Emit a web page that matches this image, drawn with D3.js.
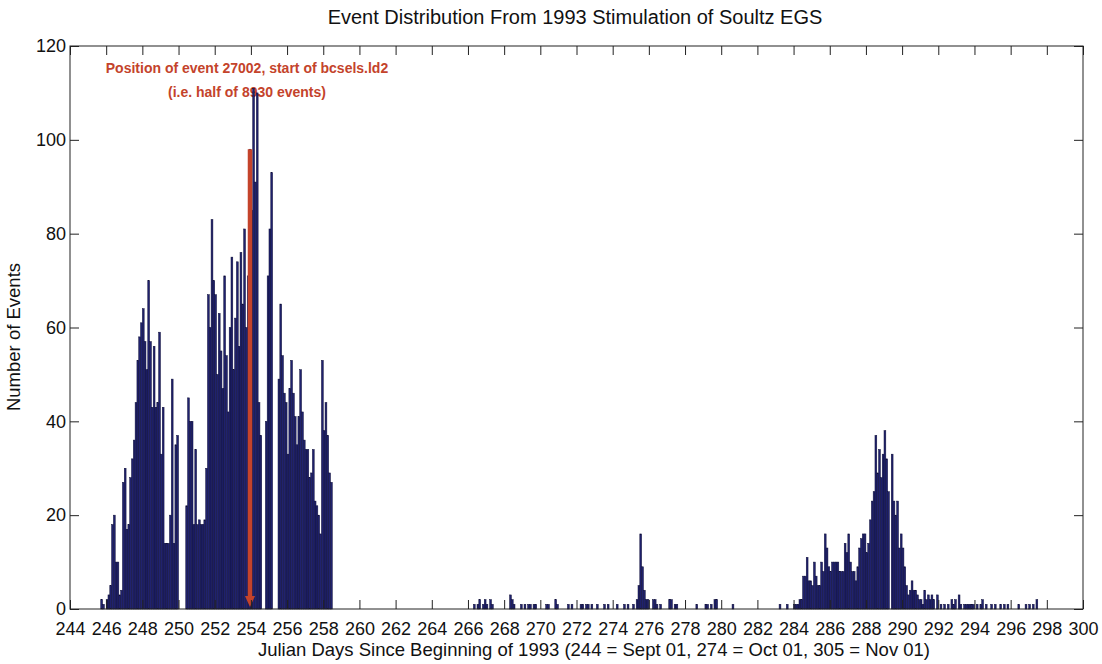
<!DOCTYPE html>
<html>
<head>
<meta charset="utf-8">
<script src="https://cdn.jsdelivr.net/npm/d3@7"></script>
<style>
  body { margin: 0; background: #fff; }
  svg { display: block; }
  text { font-family: "Liberation Sans", Arial, Helvetica, sans-serif; fill: #111; }
</style>
</head>
<body>
<svg id="chart" width="1102" height="664"></svg>
<script>
// ---- labels ----
const chartTitle = "Event Distribution From 1993 Stimulation of Soultz EGS";
const xTitle = "Julian Days Since Beginning of 1993 (244 = Sept 01, 274 = Oct 01, 305 = Nov 01)";
const yTitle = "Number of Events";
const noteLines = ["Position of event 27002, start of bcsels.ld2", "(i.e. half of 8930 events)"];

// ---- axes ----
const xTickValues = [244, 246, 248, 250, 252, 254, 256, 258, 260, 262, 264, 266, 268, 270,
                     272, 274, 276, 278, 280, 282, 284, 286, 288, 290, 292, 294, 296, 298, 300];
const yTickValues = [0, 20, 40, 60, 80, 100, 120];

// ---- histogram: events per 0.1-day bin ----
const binWidth = 0.1;

// main stimulation swarm, bins from day 245.6
const swarmStart = 245.6;
const swarmCounts = [
  0, 2, 1, 0, 2, 3, 5, 18, 20, 10,
  10, 3, 4, 27, 30, 17, 18, 28, 32, 36,
  44, 53, 58, 61, 64, 57, 51, 70, 57, 43,
  56, 43, 44, 59, 33, 43, 14, 14, 14, 20,
  49, 14, 35, 37, 0, 0, 0, 0, 22, 45,
  40, 40, 18, 34, 18, 19, 18, 18, 19, 30,
  67, 60, 83, 70, 67, 50, 63, 55, 47, 71,
  54, 42, 60, 75, 51, 62, 74, 56, 76, 65,
  81, 60, 71, 98, 85, 111, 91, 110, 44, 37,
  0, 0, 40, 71, 81, 93, 0, 0, 0, 49,
  65, 54, 46, 44, 33, 47, 53, 46, 41, 35,
  41, 51, 42, 36, 34, 34, 28, 29, 34, 23,
  22, 20, 16, 53, 38, 44, 37, 29, 27
];

// second burst, bins from day 284.0
const lateStart = 284.0;
const lateCounts = [
  1, 1, 1, 2, 2, 7, 7, 11, 6, 6,
  5, 10, 7, 5, 5, 10, 8, 16, 13, 9,
  8, 10, 10, 10, 10, 8, 8, 8, 14, 12,
  16, 10, 8, 8, 6, 9, 13, 15, 16, 16,
  12, 14, 19, 23, 25, 37, 29, 34, 28, 33,
  38, 32, 25, 0, 33, 23, 20, 23, 13, 16,
  13, 9, 5, 3, 4, 6, 4, 4, 3, 2,
  2, 1, 4, 2
];

// isolated bins between and after the bursts (bin start day, count)
const scatterDays = [
  266.3, 266.5, 266.6, 266.8, 266.9, 267.0, 267.2, 267.3, 268.3, 268.4,
  268.5, 268.9, 269.1, 269.3, 269.4, 269.6, 269.7, 270.3, 270.4, 270.8,
  270.9, 271.5, 271.7, 272.2, 272.3, 272.5, 272.6, 272.8, 273.1, 273.5,
  273.7, 274.2, 274.6, 274.8, 275.1, 275.3, 275.4, 275.5, 275.6, 275.7,
  275.8, 275.9, 276.2, 276.3, 276.4, 276.6, 277.1, 277.2, 277.4, 277.5,
  278.6, 279.1, 279.2, 279.4, 279.6, 279.7, 280.6, 283.2, 283.6,
  291.4, 291.5, 291.6, 291.7, 291.9, 292.1, 292.3, 292.5, 292.7, 292.8,
  292.9, 293.1, 293.2, 293.4, 293.5, 293.6, 293.7, 293.8, 293.9, 294.1,
  294.3, 294.4, 294.6, 294.9, 295.1, 295.4, 295.6, 295.8, 296.4, 296.8,
  297.0, 297.2, 297.4
];
const scatterCounts = [
  1, 1, 2, 1, 2, 1, 2, 1, 3, 2,
  1, 1, 1, 1, 1, 1, 1, 1, 1, 2,
  1, 1, 1, 1, 1, 1, 1, 1, 1, 1,
  1, 1, 1, 1, 1, 2, 5, 16, 9, 4,
  2, 2, 2, 2, 1, 1, 2, 2, 1, 1,
  1, 1, 1, 1, 2, 2, 1, 1, 1,
  3, 2, 3, 2, 3, 1, 1, 1, 2, 1,
  2, 3, 1, 1, 1, 1, 1, 1, 1, 1,
  1, 2, 1, 1, 1, 1, 1, 1, 1, 1,
  1, 1, 2
];

// marker for event 27002
const markerDay = 253.95;
const markerTop = 98;

// ---- build bin table ----
const bins = [];
swarmCounts.forEach((c, i) => bins.push({ day: swarmStart + i * binWidth, count: c }));
lateCounts.forEach((c, i) => bins.push({ day: lateStart + i * binWidth, count: c }));
scatterDays.forEach((d, i) => bins.push({ day: d, count: scatterCounts[i] }));

// ---- layout ----
const svg = d3.select("#chart");
const plot = { left: 70, right: 1083, top: 46, bottom: 609 };

const x = d3.scaleLinear().domain([244, 300]).range([plot.left, plot.right]);
const y = d3.scaleLinear().domain([0, 120]).range([plot.bottom, plot.top]);

const barFill = "#20226e";
const barEdge = "#0c0c36";
const noteColor = "#c4432b";

// annotation text (drawn under the bars)
svg.append("g")
  .selectAll("text")
  .data(noteLines)
  .join("text")
  .attr("x", 247)
  .attr("y", (d, i) => 73 + i * 24)
  .attr("text-anchor", "middle")
  .style("font-size", "14px")
  .style("font-weight", "bold")
  .style("fill", noteColor)
  .text(d => d);

// bars
svg.append("g")
  .selectAll("rect")
  .data(bins.filter(b => b.count > 0))
  .join("rect")
  .attr("x", d => x(d.day))
  .attr("width", d => x(d.day + binWidth) - x(d.day))
  .attr("y", d => y(d.count))
  .attr("height", d => y(0) - y(d.count))
  .attr("fill", barFill)
  .attr("stroke", barEdge)
  .attr("stroke-width", 0.5);

// marker arrow
const mx = x(markerDay);
svg.append("line")
  .attr("x1", mx).attr("x2", mx)
  .attr("y1", y(markerTop)).attr("y2", y(0) - 8)
  .attr("stroke", noteColor)
  .attr("stroke-width", 4.5);
svg.append("path")
  .attr("d", `M${mx - 5},${y(0) - 13} L${mx + 5},${y(0) - 13} L${mx},${y(0) - 2} Z`)
  .attr("fill", noteColor);

// axes
const tickLen = 9;
const axisFont = "18px";

const gx = svg.append("g")
  .attr("transform", `translate(0,${plot.bottom})`)
  .call(d3.axisBottom(x).tickValues(xTickValues).tickFormat(d3.format("d"))
    .tickSizeInner(-tickLen).tickSizeOuter(0).tickPadding(13));
const gxTop = svg.append("g")
  .attr("transform", `translate(0,${plot.top})`)
  .call(d3.axisTop(x).tickValues(xTickValues).tickFormat("")
    .tickSizeInner(-tickLen).tickSizeOuter(0));
const gy = svg.append("g")
  .attr("transform", `translate(${plot.left},0)`)
  .call(d3.axisLeft(y).tickValues(yTickValues).tickFormat(d3.format("d"))
    .tickSizeInner(-tickLen).tickSizeOuter(0).tickPadding(4));
const gyRight = svg.append("g")
  .attr("transform", `translate(${plot.right},0)`)
  .call(d3.axisRight(y).tickValues(yTickValues).tickFormat("")
    .tickSizeInner(-tickLen).tickSizeOuter(0));

[gx, gxTop, gy, gyRight].forEach(g => {
  g.select(".domain").remove();
  g.selectAll(".tick line").attr("stroke", "#222").attr("stroke-width", 1);
  g.selectAll(".tick text").style("font-size", axisFont).style("font-family", "Liberation Sans, Arial, sans-serif").attr("fill", "#111");
});

// frame
svg.append("rect")
  .attr("x", plot.left).attr("y", plot.top)
  .attr("width", plot.right - plot.left).attr("height", plot.bottom - plot.top)
  .attr("fill", "none").attr("stroke", "#222").attr("stroke-width", 1);

// titles
svg.append("text")
  .attr("x", 575).attr("y", 24)
  .attr("text-anchor", "middle")
  .style("font-size", "20px")
  .text(chartTitle);

svg.append("text")
  .attr("x", 594).attr("y", 656)
  .attr("text-anchor", "middle")
  .style("font-size", "18.5px")
  .text(xTitle);

svg.append("text")
  .attr("transform", "translate(20,337) rotate(-90)")
  .attr("text-anchor", "middle")
  .style("font-size", "18.5px")
  .text(yTitle);
</script>
</body>
</html>
